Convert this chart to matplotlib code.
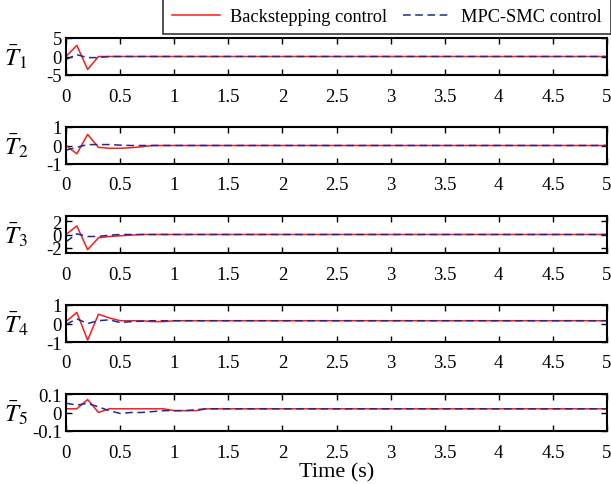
import matplotlib
matplotlib.use("Agg")
import matplotlib.pyplot as plt

plt.rcParams['font.family'] = ['Liberation Serif', 'DejaVu Serif']
plt.rcParams['mathtext.fontset'] = 'stix'

# time samples (transient part, then steady state up to 5 s)
t = [0, 0.1, 0.2, 0.3, 0.4, 0.5, 0.6, 0.7, 0.8, 0.9, 1.0, 1.1, 1.2, 1.3, 5.0]

# Backstepping control
bs_T1 = [0, 3, -3.5, 0, 0, 0, 0, 0, 0, 0, 0, 0, 0, 0, 0]
bs_T2 = [0, -0.45, 0.6, -0.1, -0.15, -0.15, -0.12, -0.07, 0, 0, 0, 0, 0, 0, 0]
bs_T3 = [0, 1.3, -2.3, -0.5, -0.3, -0.2, -0.1, 0, 0, 0, 0, 0, 0, 0, 0]
bs_T4 = [0.1, 0.6, -0.9, 0.5, 0.3, 0.15, 0.15, 0.15, 0.1, 0.1, 0.15, 0.15, 0.15, 0.15, 0.15]
bs_T5 = [0.02, 0.02, 0.07, 0.0, 0.02, 0.02, 0.02, 0.02, 0.02, 0.02, 0.01, 0.01, 0.01, 0.02, 0.02]

# MPC-SMC control
mpc_T1 = [-0.8, 0.5, -0.3, -0.3, 0, 0, 0, 0, 0, 0, 0, 0, 0, 0, 0]
mpc_T2 = [-0.25, -0.1, 0.05, 0.05, 0.05, 0.02, 0, 0, 0, 0, 0, 0, 0, 0, 0]
mpc_T3 = [-1.1, 0.1, -0.3, -0.3, -0.1, 0, 0, 0, 0, 0, 0, 0, 0, 0, 0]
mpc_T4 = [-0.05, 0.25, 0.0, 0.15, 0.2, 0.05, 0.1, 0.12, 0.15, 0.15, 0.15, 0.15, 0.15, 0.15, 0.15]
mpc_T5 = [0.05, 0.04, 0.05, 0.03, 0.01, -0.005, 0.0, 0.0, 0.005, 0.01, 0.01, 0.01, 0.015, 0.02, 0.02]

labels = [r'$\bar{T}_1$', r'$\bar{T}_2$', r'$\bar{T}_3$', r'$\bar{T}_4$', r'$\bar{T}_5$']
ylims = [(-5, 5), (-1, 1), (-2.8, 2.8), (-1, 1), (-0.1, 0.1)]
yticks = [[-5, 0, 5], [-1, 0, 1], [-2, 0, 2], [-1, 0, 1], [-0.1, 0, 0.1]]
ytick_labels = [['-5', '0', '5'], ['-1', '0', '1'], ['-2', '0', '2'], ['-1', '0', '1'], ['-0.1', '0', '0.1']]
xticks = [0, 0.5, 1, 1.5, 2, 2.5, 3, 3.5, 4, 4.5, 5]
xtick_labels = ['0', '0.5', '1', '1.5', '2', '2.5', '3', '3.5', '4', '4.5', '5']

bs = [bs_T1, bs_T2, bs_T3, bs_T4, bs_T5]
mpc = [mpc_T1, mpc_T2, mpc_T3, mpc_T4, mpc_T5]

W, H = 611, 485
fig = plt.figure(figsize=(W / 100, H / 100), dpi=100)

# panel pixel extents (top, bottom)
panels = [(39, 76), (128, 165), (217, 254), (306, 343), (395, 432)]
left, right = 66, 607

red = '#ff1a1a'
blue = '#1f2a9a'

for i, (top, bot) in enumerate(panels):
    ax = fig.add_axes([left / W, 1 - bot / H, (right - left) / W, (bot - top) / H])
    l1, = ax.plot(t, bs[i], color=red, lw=1.1, label='Backstepping control')
    l2, = ax.plot(t, mpc[i], color=blue, lw=1.1, ls=(0, (5, 3)), label='MPC-SMC control')
    ax.set_xlim(0, 5)
    ax.set_ylim(*ylims[i])
    ax.set_yticks(yticks[i])
    ax.set_yticklabels(ytick_labels[i])
    ax.set_xticks(xticks)
    ax.set_xticklabels(xtick_labels)
    ax.tick_params(direction='in', top=True, right=True, labelsize=13.5, length=4, width=1)
    ax.tick_params(axis='x', pad=9)
    ax.tick_params(axis='y', pad=3)
    for s in ax.spines.values():
        s.set_linewidth(1.5)
    fig.text(16 / W, 1 - (top + bot) / 2 / H, labels[i], fontsize=18, ha='center', va='center')
    if i == 4:
        ax.set_xlabel('Time (s)', fontsize=16, labelpad=1)

leg = fig.legend([l1, l2], ['Backstepping control', 'MPC-SMC control'], ncol=2,
                 loc='upper right', bbox_to_anchor=(1.0, 1.0), fontsize=13.2,
                 frameon=True, fancybox=False, edgecolor='black', handlelength=2.6,
                 columnspacing=0.9, handletextpad=0.55, borderpad=0.5, borderaxespad=0)
leg.get_frame().set_linewidth(1.2)

fig.savefig('out.png', dpi=100)
